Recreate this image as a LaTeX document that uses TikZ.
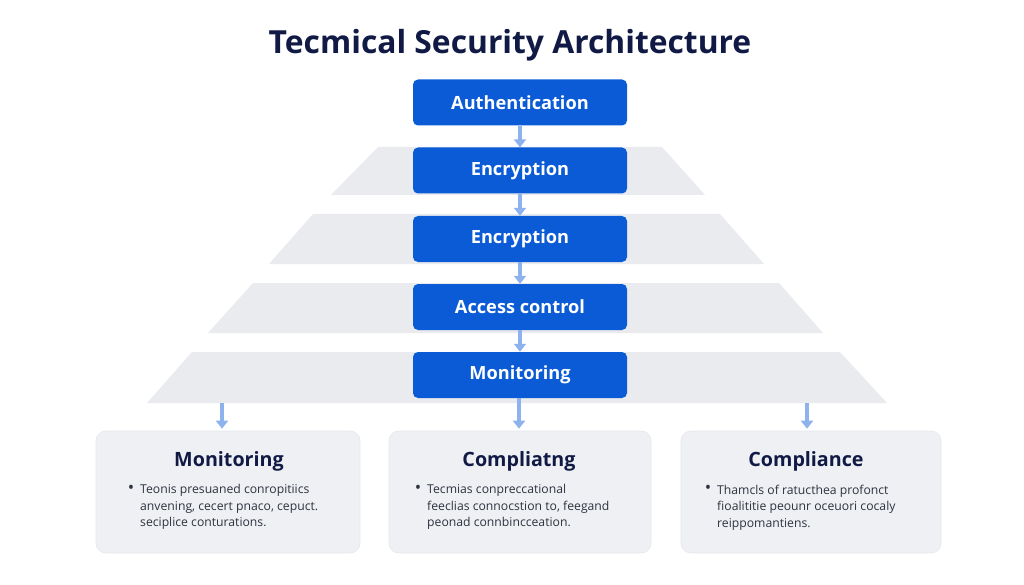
\documentclass[tikz,border=0pt]{standalone}
\usepackage{fontspec}
\setmainfont{Open Sans}
\usetikzlibrary{arrows.meta}
\definecolor{blu}{HTML}{0B5BD6}
\definecolor{navy}{HTML}{101A45}
\definecolor{bandc}{HTML}{E9EBEF}
\definecolor{cardc}{HTML}{EEF0F4}
\definecolor{cardline}{HTML}{E4E7EB}
\definecolor{arrc}{HTML}{8DB2EE}
\definecolor{txtc}{HTML}{2E333D}
\tikzset{
  bluebox/.style={fill=blu, rounded corners=5pt, minimum width=214pt, minimum height=46pt,
    inner sep=0pt, text=white, font=\fontsize{18.2}{20}\selectfont\bfseries},
  flow/.style={draw=arrc, line width=4pt, -{Triangle[width=12pt,length=8pt]}},
  cardbox/.style={fill=cardc, draw=cardline, line width=0.6pt, rounded corners=10pt, inner sep=0pt},
  cardhead/.style={text=navy, font=\fontsize{19.7}{22}\selectfont\bfseries, inner sep=0pt},
  cardtext/.style={text=txtc, font=\fontsize{12.2}{16.5}\selectfont, align=left, inner sep=0pt, anchor=north west},
  bulletdot/.style={text=txtc, font=\fontsize{17}{17}\selectfont, inner sep=0pt, anchor=center},
  bandshape/.style={fill=bandc},
  titletext/.style={text=navy, font=\fontsize{31.8}{34}\selectfont\bfseries, inner sep=0pt}
}
\begin{document}
\begin{tikzpicture}[x=1pt,y=-1pt]
\useasboundingbox[fill=white] (0,0) rectangle (1024,585);
% title
\node[titletext] (title) at (510,45) {Tecmical Security Architecture};
% bands
\fill[bandshape] (378,147) -- (662,147) -- (705,195) -- (331,195) -- cycle;
\fill[bandshape] (313,214) -- (720,214) -- (764,264) -- (269,264) -- cycle;
\fill[bandshape] (253,283) -- (779,283) -- (823,333) -- (208,333) -- cycle;
\fill[bandshape] (192,352) -- (840,352) -- (887,403) -- (147,403) -- cycle;
% blue boxes
\node[bluebox] (auth) at (520,102.5) {Authentication};
\node[bluebox] (enc1) at (520,170.5) {Encryption};
\node[bluebox] (enc2) at (520,239) {Encryption};
\node[bluebox] (acc) at (520,307) {Access control};
\node[bluebox] (mon) at (520,375) {Monitoring};
\draw[flow] (auth.south) -- (enc1.north);
\draw[flow] (enc1.south) -- (enc2.north);
\draw[flow] (enc2.south) -- (acc.north);
\draw[flow] (acc.south) -- (mon.north);
% cards
\node[cardbox, minimum width=264pt, minimum height=122pt] (card1) at (228,492) {};
\node[cardbox, minimum width=262pt, minimum height=122pt] (card2) at (520,492) {};
\node[cardbox, minimum width=260pt, minimum height=122pt] (card3) at (811,492) {};
% bottom arrows
\coordinate (s1) at (222,403);
\coordinate (s2) at (519,398);
\coordinate (s3) at (807,403);
\draw[flow, shorten >=2pt] (s1) -- (s1 |- card1.north);
\draw[flow, shorten >=2pt] (s2) -- (s2 |- card2.north);
\draw[flow, shorten >=2pt] (s3) -- (s3 |- card3.north);
% card contents
\node[cardhead] (h1) at (229,461) {Monitoring};
\node[cardhead] (h2) at (519,461) {Compliatng};
\node[cardhead] (h3) at (806,461) {Compliance};
\node[bulletdot] (b1) at (131,489) {•};
\node[cardtext] (t1) at (140,484.5) {Teonis presuaned conropitiics\\anvening, cecert pnaco, cepuct.\\seciplice conturations.};
\node[bulletdot] (b2) at (418,489) {•};
\node[cardtext] (t2) at (427,484.5) {Tecmias conpreccational\\feeclias connocstion to, feegand\\peonad connbincceation.};
\node[bulletdot] (b3) at (708,489) {•};
\node[cardtext] (t3) at (717,484.5) {Thamcls of ratucthea profonct\\fioalititie peounr oceuori cocaly\\reippomantiens.};
\end{tikzpicture}
\end{document}
